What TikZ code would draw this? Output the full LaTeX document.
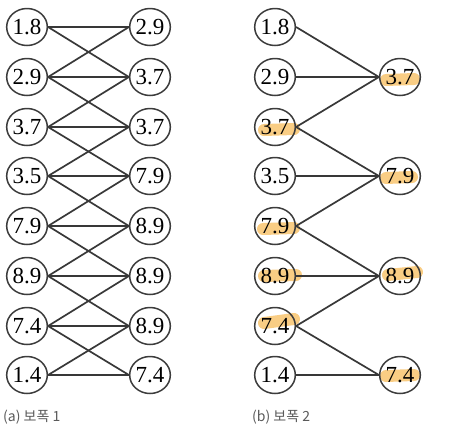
\documentclass[tikz,border=0pt]{standalone}
\usepackage{fontspec}
\setmainfont{Liberation Serif}
\newfontfamily\kofont{Noto Sans CJK KR}
\usetikzlibrary{shapes.geometric}
\definecolor{edgecol}{HTML}{383838}
\definecolor{ringcol}{HTML}{3C3C3C}
\definecolor{hilite}{RGB}{248,196,110}
\definecolor{capcol}{HTML}{5A5A5A}
\tikzset{
  val/.style={ellipse, draw=ringcol, line width=1.5pt, minimum width=40pt, minimum height=37pt, inner sep=0pt, font=\fontsize{23}{23}\selectfont},
  link/.style={draw=edgecol, line width=1.7pt},
  hl/.style={draw=hilite, line width=12pt, line cap=round, opacity=0.85},
  caption/.style={anchor=west, text=capcol, font=\kofont\fontsize{14}{15}\selectfont, inner sep=0pt}
}
\begin{document}
\begin{tikzpicture}[x=1pt,y=-1pt]
\useasboundingbox (0,0) rectangle (456,432);
\def\ra{27}\def\rb{77}\def\rc{127}\def\rd{176}
\def\re{226}\def\rf{276}\def\rg{326}\def\rh{375}
% highlights (b)
\draw[hl] (264,130) -- (294,129);
\draw[hl] (263,229) -- (294,228);
\draw[hl] (264,276) -- (296,275);
\draw[hl] (264,323) -- (294,319);
\draw[hl] (386,\rb+3) -- (414,\rb+2);
\draw[hl] (386,\rd+2) -- (412,\rd+1);
\draw[hl] (388,\rf-1) -- (417,\rf-4);
\draw[hl] (386,\rh+1) -- (414,\rh);
% panel (a)
\foreach \n/\v/\y in {1/1.8/\ra,2/2.9/\rb,3/3.7/\rc,4/3.5/\rd,5/7.9/\re,6/8.9/\rf,7/7.4/\rg,8/1.4/\rh}
  \node[val] (aL\n) at (27,\y) {\v};
\foreach \n/\v/\y in {1/2.9/\ra,2/3.7/\rb,3/3.7/\rc,4/7.9/\rd,5/8.9/\re,6/8.9/\rf,7/8.9/\rg,8/7.4/\rh}
  \node[val] (aR\n) at (150,\y) {\v};
\foreach \i/\j in {1/1,1/2,2/1,2/2,2/3,3/2,3/3,3/4,4/3,4/4,4/5,5/4,5/5,5/6,6/5,6/6,6/7,7/6,7/7,7/8,8/7,8/8}
  \draw[link] (aL\i.east) -- (aR\j.west);
% panel (b)
\foreach \n/\v/\y in {1/1.8/\ra,2/2.9/\rb,3/3.7/\rc,4/3.5/\rd,5/7.9/\re,6/8.9/\rf,7/7.4/\rg,8/1.4/\rh}
  \node[val] (bL\n) at (275,\y) {\v};
\node[val] (bR1) at (400,\rb) {3.7};
\node[val] (bR2) at (400,\rd) {7.9};
\node[val] (bR3) at (400,\rf) {8.9};
\node[val] (bR4) at (400,\rh) {7.4};
\foreach \i/\j in {1/1,2/1,3/1,3/2,4/2,5/2,5/3,6/3,7/3,7/4,8/4}
  \draw[link] (bL\i.east) -- (bR\j.west);
% captions
\node[caption] (capa) at (3,417) {(a) 보폭 1};
\node[caption] (capb) at (252,417) {(b) 보폭 2};
\end{tikzpicture}
\end{document}
